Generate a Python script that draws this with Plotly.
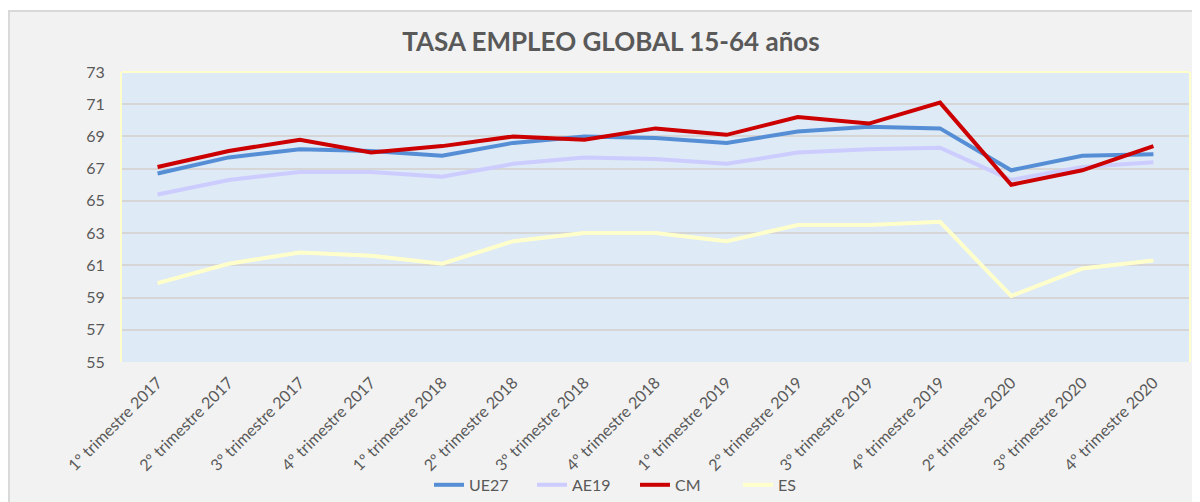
import plotly.graph_objects as go

categories = [
    "1º trimestre 2017", "2º trimestre 2017", "3º trimestre 2017", "4º trimestre 2017",
    "1º trimestre 2018", "2º trimestre 2018", "3º trimestre 2018", "4º trimestre 2018",
    "1º trimestre 2019", "2º trimestre 2019", "3º trimestre 2019", "4º trimestre 2019",
    "2º trimestre 2020", "3º trimestre 2020", "4º trimestre 2020",
]
ue27 = [66.7, 67.7, 68.2, 68.1, 67.8, 68.6, 69.0, 68.9, 68.6, 69.3, 69.6, 69.5, 66.9, 67.8, 67.9]
ae19 = [65.4, 66.3, 66.8, 66.8, 66.5, 67.3, 67.7, 67.6, 67.3, 68.0, 68.2, 68.3, 66.3, 67.1, 67.4]
cm = [67.1, 68.1, 68.8, 68.0, 68.4, 69.0, 68.8, 69.5, 69.1, 70.2, 69.8, 71.1, 66.0, 66.9, 68.4]
es = [59.9, 61.1, 61.8, 61.6, 61.1, 62.5, 63.0, 63.0, 62.5, 63.5, 63.5, 63.7, 59.1, 60.8, 61.3]

series = [
    ("UE27", ue27, "#558ed5"),
    ("AE19", ae19, "#ccccff"),
    ("CM", cm, "#cc0000"),
    ("ES", es, "#ffffcc"),
]

FONT = "Lato, 'Open Sans', sans-serif"
GREY = "#595959"
PLOT_BG = "#deeaf6"

fig = go.Figure()
for name, vals, color in series:
    fig.add_trace(go.Scatter(
        x=categories, y=vals, name=name, mode="lines",
        line=dict(color=color, width=4),
    ))

fig.update_layout(
    width=1200, height=502,
    margin=dict(l=114, r=19, t=64, b=148),
    paper_bgcolor="white",
    plot_bgcolor=PLOT_BG,
    font=dict(family=FONT, color=GREY, size=14),
    title=dict(
        text="<b>TASA EMPLEO GLOBAL 15-64 años</b>",
        x=0.5025, xref="container", xanchor="center",
        y=0.932, yref="container", yanchor="middle",
        font=dict(family=FONT, size=26, color=GREY),
    ),
    showlegend=True,
    legend=dict(
        orientation="h", x=0.5225, xref="container", xanchor="center",
        y=0.05, yref="container", yanchor="middle",
        font=dict(size=16, color=GREY), bgcolor="rgba(0,0,0,0)",
        entrywidth=58,
    ),
    xaxis=dict(
        type="category", tickangle=-45, showgrid=False,
        range=[-0.5, len(categories) - 0.5],
        tickfont=dict(size=16, color=GREY),
        ticks="outside", ticklen=4, tickcolor="rgba(0,0,0,0)",
        showline=False, zeroline=False, automargin=False,
    ),
    yaxis=dict(
        range=[55, 73], dtick=2, tick0=55,
        showgrid=True, gridcolor="#d6d6d6", gridwidth=1.5,
        tickfont=dict(size=16, color=GREY),
        ticks="outside", ticklen=12, tickcolor="rgba(0,0,0,0)",
        showline=True, linecolor="#ffffcc", linewidth=2, mirror=True,
        zeroline=False, automargin=False,
    ),
    shapes=[
        dict(type="rect", xref="paper", yref="paper",
             x0=-0.1059, x1=1.1, y0=-0.6, y1=1.2103,
             fillcolor="#f2f2f2", line=dict(color="#d9d9d9", width=2), layer="below"),
        dict(type="rect", xref="paper", yref="paper",
             x0=0, x1=1, y0=0, y1=1,
             fillcolor=PLOT_BG, line=dict(width=0), layer="below"),
        dict(type="line", xref="paper", yref="paper",
             x0=0, x1=1, y0=1, y1=1, line=dict(color="#ffffcc", width=2), layer="above"),
    ],
)

fig.write_html("out.html")
